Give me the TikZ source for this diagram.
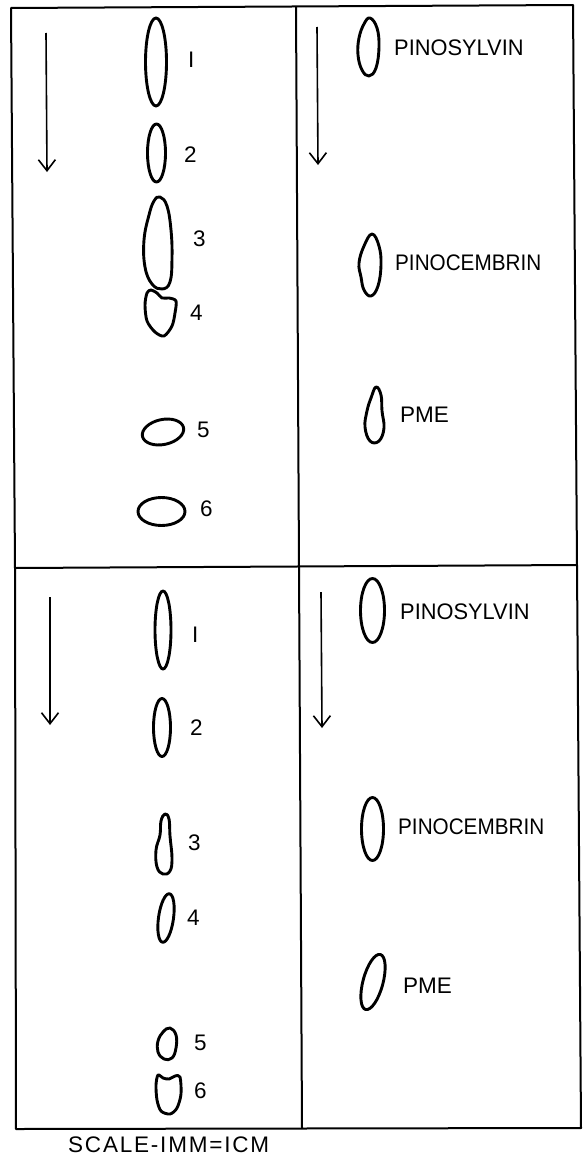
\documentclass[tikz,border=0pt]{standalone}
\usepackage{fontspec}
\setmainfont{Liberation Sans}
\usetikzlibrary{arrows.meta}
\begin{document}
\begin{tikzpicture}[x=1pt,y=-1pt,
  frame/.style={line width=2pt, line join=round, line cap=round},
  spot/.style={line width=2.9pt, line join=round},
  lab/.style={anchor=west, inner sep=0pt, font=\fontsize{22.5}{24}\selectfont},
  runarrow/.style={line width=1.6pt, -{Straight Barb[length=11pt,width=17pt,line width=1.6pt]}}
]
\useasboundingbox (0,0) rectangle (583,1156);
% frame corners
\coordinate (tl) at (11,8);
\coordinate (tr) at (573,5);
\coordinate (br) at (581,1128);
\coordinate (bl) at (16,1129);
\coordinate (ml) at (15,568);
\coordinate (mr) at (577,565);
\coordinate (tm) at (296,7);
\coordinate (bm) at (302,1128);
\draw[frame] (tl) -- (tr) -- (br) -- (bl) -- (ml) -- cycle;
\draw[frame] (ml) -- (mr);
\draw[frame] (tm) -- (bm);

% direction arrows
\coordinate (a1s) at (46,33);  \coordinate (a1e) at (47,172);
\coordinate (a2s) at (317,27); \coordinate (a2e) at (318,165);
\coordinate (a3s) at (50,597); \coordinate (a3e) at (50,725);
\coordinate (a4s) at (321,592); \coordinate (a4e) at (322,728);
\draw[runarrow] (a1s) -- (a1e);
\draw[runarrow] (a2s) -- (a2e);
\draw[runarrow] (a3s) -- (a3e);
\draw[runarrow] (a4s) -- (a4e);

% upper left spots
\draw[spot] (156,62) ellipse [x radius=10.5, y radius=44];
\draw[spot] (156.5,153) ellipse [x radius=9, y radius=29];
\draw[spot] plot[smooth cycle, tension=0.7] coordinates {(160,197) (167,206) (171,230) (172,258) (170,282) (162,289) (152,284) (145,267) (144,240) (149,215) (154,201)};
\draw[spot] plot[smooth cycle, tension=0.5] coordinates {(151,290) (157,293) (162,298) (169,298) (176,301) (175,313) (172,326) (164,336) (155,332) (147,321) (145,305) (147,293)};
\draw[spot] (163,432) ellipse [x radius=21, y radius=12.5, rotate=12];
\draw[spot] (161.5,511.5) ellipse [x radius=23.5, y radius=14];

% upper right spots
\draw[spot] plot[smooth cycle, tension=0.7] coordinates {(370,18) (377,28) (379,47) (376,68) (369,76) (362,70) (358,55) (359,38) (364,24)};
\draw[spot] plot[smooth cycle, tension=0.7] coordinates {(372,234) (379,246) (381,265) (378,286) (371,296) (364,290) (361,277) (359,263) (364,246)};
\draw[spot] plot[smooth cycle, tension=0.7] coordinates {(376,387) (381,395) (382,411) (384,428) (379,441) (370,441) (365,427) (367,411) (371,398)};

% lower left spots
\draw[spot] (163,630) ellipse [x radius=8, y radius=39];
\draw[spot] (162,727.5) ellipse [x radius=8.5, y radius=29];
\draw[spot] plot[smooth cycle, tension=0.7] coordinates {(165,814) (169,819) (170,836) (172,858) (170,871) (163,874) (157,867) (156,850) (160,835) (161,821)};
\draw[spot] (166,918) ellipse [x radius=7.5, y radius=24.5, rotate=-8];
\draw[spot] plot[smooth cycle, tension=0.7] coordinates {(170,1028) (176,1035) (176,1048) (172,1058) (164,1059) (158,1052) (158,1041) (163,1032)};
\draw[spot] plot[smooth cycle, tension=0.5] coordinates {(158,1075) (163,1078) (169,1079) (175,1076) (180,1077) (181,1094) (177,1108) (170,1114) (161,1111) (157,1100) (156,1085)};

% lower right spots
\draw[spot] (372.5,610.5) ellipse [x radius=12, y radius=32];
\draw[spot] (372.5,829) ellipse [x radius=11, y radius=31.5];
\draw[spot] (373,982) ellipse [x radius=10, y radius=28.5, rotate=-15];

% labels upper left
\node[lab] (u1) at (188,60) {I};
\node[lab] (u2) at (184,155) {2};
\node[lab] (u3) at (193,239) {3};
\node[lab] (u4) at (190,313) {4};
\node[lab] (u5) at (197,430) {5};
\node[lab] (u6) at (200,509) {6};
% labels upper right
\node[lab, xscale=0.97] (up1) at (394,48) {PINOSYLVIN};
\node[lab, xscale=0.92] (up2) at (395,263) {PINOCEMBRIN};
\node[lab] (up3) at (400,415) {PME};
% labels lower left
\node[lab] (l1) at (192,635) {I};
\node[lab] (l2) at (190,728) {2};
\node[lab] (l3) at (188,843) {3};
\node[lab] (l4) at (187,918) {4};
\node[lab] (l5) at (194,1043) {5};
\node[lab] (l6) at (194,1091) {6};
% labels lower right
\node[lab, xscale=0.97] (lp1) at (400,612) {PINOSYLVIN};
\node[lab, xscale=0.92] (lp2) at (398,827) {PINOCEMBRIN};
\node[lab] (lp3) at (403,986) {PME};
% scale
\node[lab] (scale) at (68,1145) {\addfontfeature{LetterSpace=8}SCALE-IMM=ICM};
\end{tikzpicture}
\end{document}
